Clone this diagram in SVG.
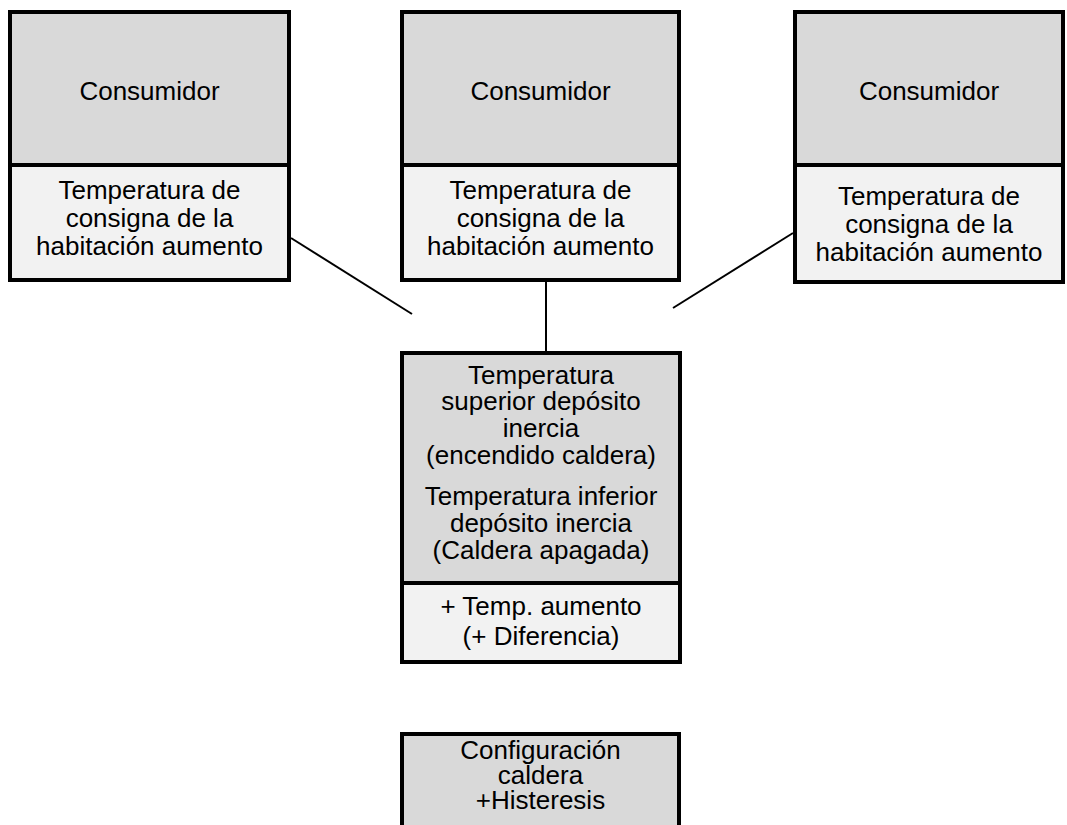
<svg xmlns="http://www.w3.org/2000/svg" width="1067" height="825" viewBox="0 0 1067 825">
<style>
.hd{fill:#d9d9d9;stroke:none}
.bd{fill:#f2f2f2;stroke:none}
.fr{fill:none;stroke:#000;stroke-width:4}
.dv{stroke:#000;stroke-width:4}
.t{font-family:"Liberation Sans",Arial,sans-serif;font-size:26px;fill:#000;text-anchor:middle}
.cn{stroke:#000;stroke-width:2;fill:none}
</style>
<rect width="1067" height="825" fill="#fff"/>
<g id="connectors">
<line class="cn" x1="291" y1="238" x2="412" y2="314"/>
<line class="cn" x1="546" y1="282" x2="546" y2="352"/>
<line class="cn" x1="793" y1="233" x2="673" y2="308"/>
</g>
<g id="consumidor1">
<rect class="hd" x="10" y="12" width="279" height="153"/>
<rect class="bd" x="10" y="165" width="279" height="115"/>
<rect class="fr" x="10" y="12" width="279" height="268"/>
<line class="dv" x1="10" y1="165" x2="289" y2="165"/>
<text class="t" x="149.5" y="100">Consumidor</text>
<text class="t" x="149.5" y="199">Temperatura de</text>
<text class="t" x="149.5" y="227">consigna de la</text>
<text class="t" x="149.5" y="255">habitación aumento</text>
</g>
<g id="consumidor2">
<rect class="hd" x="402" y="12" width="277" height="153"/>
<rect class="bd" x="402" y="165" width="277" height="115"/>
<rect class="fr" x="402" y="12" width="277" height="268"/>
<line class="dv" x1="402" y1="165" x2="679" y2="165"/>
<text class="t" x="540.5" y="100">Consumidor</text>
<text class="t" x="540.5" y="199">Temperatura de</text>
<text class="t" x="540.5" y="227">consigna de la</text>
<text class="t" x="540.5" y="255">habitación aumento</text>
</g>
<g id="consumidor3">
<rect class="hd" x="795" y="12" width="268" height="153"/>
<rect class="bd" x="795" y="165" width="268" height="117"/>
<rect class="fr" x="795" y="12" width="268" height="270"/>
<line class="dv" x1="795" y1="165" x2="1063" y2="165"/>
<text class="t" x="929" y="100">Consumidor</text>
<text class="t" x="929" y="205">Temperatura de</text>
<text class="t" x="929" y="233">consigna de la</text>
<text class="t" x="929" y="261">habitación aumento</text>
</g>
<g id="deposito">
<rect class="hd" x="402" y="353" width="278" height="230"/>
<rect class="bd" x="402" y="583" width="278" height="79"/>
<rect class="fr" x="402" y="353" width="278" height="309"/>
<line class="dv" x1="402" y1="583" x2="680" y2="583"/>
<text class="t" x="541" y="384">Temperatura</text>
<text class="t" x="541" y="410">superior depósito</text>
<text class="t" x="541" y="437">inercia</text>
<text class="t" x="541" y="464">(encendido caldera)</text>
<text class="t" x="541" y="505">Temperatura inferior</text>
<text class="t" x="541" y="532">depósito inercia</text>
<text class="t" x="541" y="559">(Caldera apagada)</text>
<text class="t" x="541" y="615">+ Temp. aumento</text>
<text class="t" x="541" y="645">(+ Diferencia)</text>
</g>
<g id="caldera">
<rect class="hd" x="402" y="734" width="277" height="100"/>
<rect class="fr" x="402" y="734" width="277" height="100"/>
<text class="t" x="540.5" y="759">Configuración</text>
<text class="t" x="540.5" y="784">caldera</text>
<text class="t" x="540.5" y="809">+Histeresis</text>
</g>
</svg>
